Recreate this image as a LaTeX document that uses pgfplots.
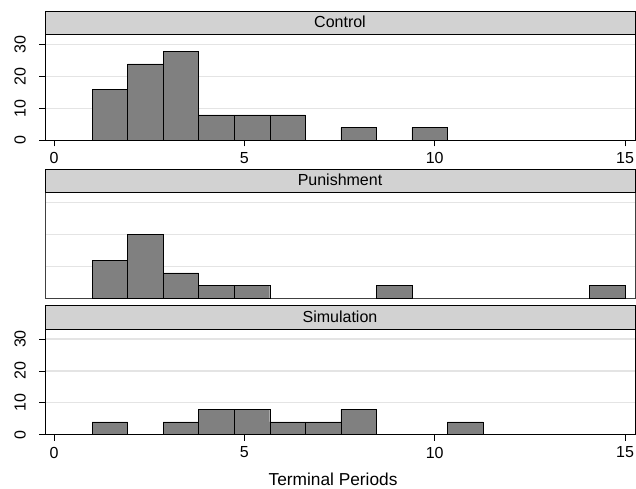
\documentclass[border=0pt]{standalone}
\usepackage{fontspec}
\setmainfont{Liberation Sans}
\usepackage{pgfplots}
\pgfplotsset{compat=1.18}
\definecolor{bargray}{RGB}{128,128,128}
\definecolor{stripgray}{RGB}{210,210,210}
\definecolor{gridgray}{RGB}{228,228,228}
\pgfplotsset{
 panel/.style={
  scale only axis, width=590pt, height=105.8pt, anchor=south west,
  xmin=-0.236, xmax=15.26, ymin=0, ymax=33.2,
  xtick={0,5,10,15}, ytick={0,10,20,30},
  tick align=outside, major tick length=6pt, tick pos=left,
  every tick/.style={black, line width=0.8pt},
  ymajorgrids, major grid style={gridgray, line width=1.2pt},
  ybar, bar width=0.93333, bar shift=0pt,
  axis line style={black, line width=0.8pt},
  tick label style={font=\fontsize{16}{19}\selectfont},
  /pgf/number format/assume math mode=true,
  yticklabel style={rotate=90, anchor=south, inner sep=0pt},
  yticklabel shift=13pt,
  xticklabel style={anchor=north, inner sep=0pt},
  xticklabel shift=6pt,
  cycle list={{fill=bargray, draw=black, line width=0.8pt}},
 }
}
\begin{document}
\begin{tikzpicture}[x=1pt,y=1pt]
\path[use as bounding box] (0,0) rectangle (636,489);
% Control
\begin{axis}[panel, name=c1, at={(45pt,348.7pt)}]
\addplot coordinates {(1.4667,16) (2.4,24) (3.3333,28) (4.2667,8) (5.2,8) (6.1333,8) (8.0,4) (9.8667,4)};
\end{axis}
\draw[fill=stripgray, line width=0.8pt] (c1.north west) rectangle ([yshift=23.3pt]c1.north east);
\node[anchor=base, font=\fontsize{16}{19}\selectfont] at ([yshift=6.5pt]c1.north) {Control};
% Punishment
\begin{axis}[panel, name=c2, at={(45pt,190.7pt)}, xtick=\empty, ytick={10,20,30}, yticklabels={}, major tick length=0pt,
  x axis line style={gridgray, line width=1.2pt}, y axis line style={black!75, line width=0.8pt}]
\addplot coordinates {(1.4667,12) (2.4,20) (3.3333,8) (4.2667,4) (5.2,4) (8.9333,4) (14.5333,4)};
\end{axis}
\draw[fill=stripgray, line width=0.8pt] (c2.north west) rectangle ([yshift=23.3pt]c2.north east);
\node[anchor=base, font=\fontsize{16}{19}\selectfont] at ([yshift=6.5pt]c2.north) {Punishment};
% Simulation
\begin{axis}[panel, name=c3, at={(45pt,54.3pt)},
  xlabel={Terminal Periods},
  xlabel style={font=\fontsize{17.3}{20}\selectfont, at={(axis description cs:0.5,0)}, anchor=base, yshift=-50.3pt, xshift=-7pt}]
\addplot coordinates {(1.4667,4) (3.3333,4) (4.2667,8) (5.2,8) (6.1333,4) (7.0667,4) (8.0,8) (10.8,4)};
\end{axis}
\draw[fill=stripgray, line width=0.8pt] (c3.north west) rectangle ([yshift=23.3pt]c3.north east);
\node[anchor=base, font=\fontsize{16}{19}\selectfont] at ([yshift=6.5pt]c3.north) {Simulation};
\end{tikzpicture}
\end{document}
